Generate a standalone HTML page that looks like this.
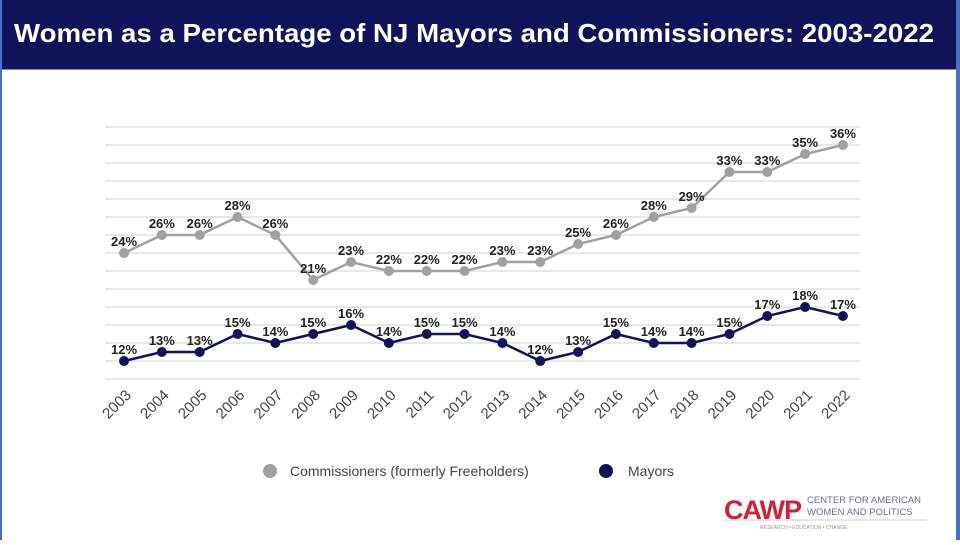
<!DOCTYPE html>
<html><head><meta charset="utf-8"><style>
body{margin:0;width:960px;height:540px;overflow:hidden;background:#fff;font-family:"Liberation Sans",sans-serif;}
</style></head><body>
<svg width="960" height="540" xmlns="http://www.w3.org/2000/svg" font-family="Liberation Sans, sans-serif">
<rect x="0" y="0" width="960" height="540" fill="#fff"/>
<rect x="0" y="0" width="960" height="69" fill="#10135a"/>
<line x1="0" y1="69.5" x2="960" y2="69.5" stroke="#7f86b8" stroke-width="1"/>
<rect x="0" y="0" width="2" height="540" fill="#4472c4"/>
<rect x="956" y="0" width="4" height="540" fill="#4472c4"/>
<text x="14" y="42" fill="#fff" font-size="26" font-weight="bold" textLength="920" lengthAdjust="spacingAndGlyphs">Women as a Percentage of NJ Mayors and Commissioners: 2003-2022</text>
<g id="grid" stroke="#e8e8e8" stroke-width="2"></g>
<g id="series"></g>
<g font-size="14" fill="#444">
<circle cx="270" cy="471" r="7" fill="#a0a0a0"/>
<text x="290" y="476">Commissioners (formerly Freeholders)</text>
<circle cx="606" cy="471" r="7" fill="#10135a"/>
<text x="628" y="476">Mayors</text>
</g>
<text x="724" y="519" font-size="27" font-weight="bold" fill="#d41f3a" letter-spacing="-1">CAWP</text>
<text x="807" y="503" font-size="9.5" fill="#6a6f9a">CENTER FOR AMERICAN</text>
<text x="807" y="515" font-size="9.5" fill="#6a6f9a">WOMEN AND POLITICS</text>
<line x1="724" y1="520" x2="927" y2="520" stroke="#ccc"/>
<text x="760" y="529" font-size="5" fill="#999">RESEARCH • EDUCATION • CHANGE</text>
</svg>
<script>
const ns="http://www.w3.org/2000/svg";
const svg=document.querySelector('svg');
const g=document.getElementById('grid'),s=document.getElementById('series');
const Y=v=>469-9*v, X=i=>124+i*37.84;
for(let v=10;v<=38;v+=2){const l=document.createElementNS(ns,'line');l.setAttribute('x1',105);l.setAttribute('x2',860);l.setAttribute('y1',Y(v));l.setAttribute('y2',Y(v));g.appendChild(l);}
const c=[24,26,26,28,26,21,23,22,22,22,23,23,25,26,28,29,33,33,35,36];
const m=[12,13,13,15,14,15,16,14,15,15,14,12,13,15,14,14,15,17,18,17];
function draw(d,col){
 const p=document.createElementNS(ns,'polyline');
 p.setAttribute('points',d.map((v,i)=>X(i)+','+Y(v)).join(' '));
 p.setAttribute('fill','none');p.setAttribute('stroke',col);p.setAttribute('stroke-width','2.5');s.appendChild(p);
 d.forEach((v,i)=>{const ci=document.createElementNS(ns,'circle');ci.setAttribute('cx',X(i));ci.setAttribute('cy',Y(v));ci.setAttribute('r',5);ci.setAttribute('fill',col);s.appendChild(ci);
 const t=document.createElementNS(ns,'text');t.setAttribute('x',X(i));t.setAttribute('y',Y(v)-7);t.setAttribute('text-anchor','middle');t.setAttribute('font-size','13');t.setAttribute('font-weight','bold');t.setAttribute('fill','#222');t.textContent=v+'%';s.appendChild(t);});
}
draw(c,'#a0a0a0');draw(m,'#10135a');
for(let i=0;i<20;i++){const t=document.createElementNS(ns,'text');const x=X(i)+8,y=396;t.setAttribute('x',x);t.setAttribute('y',y);t.setAttribute('text-anchor','end');t.setAttribute('font-size','15');t.setAttribute('fill','#444');t.setAttribute('transform',`rotate(-45 ${x} ${y})`);t.textContent=2003+i;svg.appendChild(t);}
</script>
</body></html>
